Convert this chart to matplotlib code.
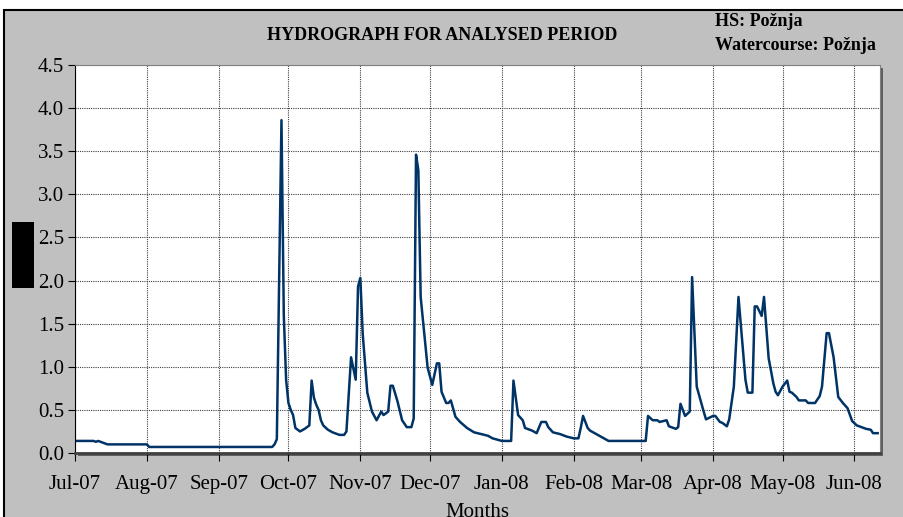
import matplotlib
matplotlib.use("Agg")
import matplotlib.pyplot as plt
from matplotlib.patches import Rectangle
import numpy as np
import pandas as pd

# daily discharge, day number counted from 1 Jul 2007
day = [0, 8, 9, 10, 12, 14, 31, 32, 85, 86, 87, 89, 90, 91, 92, 93, 94, 95, 97, 99,
       100, 101, 102, 103, 104, 105, 106, 107, 109, 111, 114, 116, 117, 119, 121, 122,
       123, 124, 126, 128, 130, 132, 133, 135, 136, 137, 139, 141, 143, 145, 146, 147, 148,
       149, 152, 154, 156, 157, 158, 160, 161, 162, 164, 166, 169, 172, 175, 178, 180,
       184, 188, 189, 191, 193, 194, 197, 199, 201, 203, 204, 206, 209, 212, 215, 217,
       218, 219, 221, 222, 224, 226, 230, 246, 247, 249, 251, 252, 255, 256, 259, 260,
       261, 263, 265, 266, 268, 271, 272, 275, 276, 278, 279, 281, 282, 284, 286, 289,
       290, 292, 293, 294, 296, 297, 299, 301, 302, 303, 305, 307, 308, 309, 311, 312,
       315, 316, 319, 321, 322, 324, 325, 327, 329, 331, 333, 335, 337, 339, 341, 343,
       344, 346]
flow = [0.14, 0.14, 0.13, 0.14, 0.12, 0.10, 0.10, 0.07, 0.07, 0.10, 0.16, 3.86, 1.60, 0.85,
        0.58, 0.50, 0.44, 0.29, 0.25, 0.28, 0.30, 0.32, 0.84, 0.64, 0.56, 0.50, 0.38, 0.32,
        0.27, 0.24, 0.21, 0.21, 0.25, 1.11, 0.85, 1.93, 2.03, 1.39, 0.70, 0.48, 0.38, 0.48,
        0.44, 0.48, 0.78, 0.78, 0.60, 0.38, 0.30, 0.30, 0.40, 3.46, 3.28, 1.81, 0.99, 0.79,
        1.04, 1.04, 0.71, 0.58, 0.58, 0.61, 0.42, 0.36, 0.29, 0.24, 0.22, 0.20, 0.17, 0.14,
        0.14, 0.84, 0.44, 0.38, 0.29, 0.26, 0.23, 0.36, 0.36, 0.30, 0.24, 0.22, 0.19, 0.17,
        0.17, 0.29, 0.43, 0.29, 0.26, 0.23, 0.20, 0.14, 0.14, 0.43, 0.38, 0.38, 0.36, 0.38,
        0.31, 0.28, 0.30, 0.57, 0.43, 0.48, 2.04, 0.77, 0.48, 0.39, 0.43, 0.43, 0.36, 0.35,
        0.31, 0.39, 0.77, 1.81, 0.85, 0.70, 0.70, 1.70, 1.70, 1.59, 1.81, 1.10, 0.81, 0.71,
        0.67, 0.77, 0.84, 0.71, 0.70, 0.65, 0.61, 0.61, 0.58, 0.58, 0.66, 0.77, 1.39, 1.39,
        1.11, 0.65, 0.58, 0.52, 0.37, 0.32, 0.30, 0.28, 0.27, 0.23, 0.23]

month_labels = ["Jul-07", "Aug-07", "Sep-07", "Oct-07", "Nov-07", "Dec-07",
                "Jan-08", "Feb-08", "Mar-08", "Apr-08", "May-08", "Jun-08"]

dates = pd.Timestamp("2007-07-01") + pd.to_timedelta(day, unit="D")

plt.rcParams['font.family'] = ['Liberation Serif', 'DejaVu Serif']

fig = plt.figure(figsize=(9.04, 5.17), dpi=100)
fig.patch.set_facecolor("white")
# grey chart background with border
fig.patches.append(Rectangle((4/904, -0.05), 1.1, (517-10)/517 + 0.05, transform=fig.transFigure,
                             facecolor="#c0c0c0", edgecolor="black", linewidth=1.5, zorder=0))
fig.patches.append(Rectangle((12/904, (517-288)/517), 22/904, 66/517, transform=fig.transFigure,
                             facecolor="black", edgecolor="none", zorder=1))

ax = fig.add_axes([75/904, (517-453)/517, 805/904, 388/517])
# shadow behind plot area
fig.patches.append(Rectangle((78/904, (517-456)/517), 805/904, 388/517, transform=fig.transFigure,
                             facecolor="#606060", edgecolor="none", zorder=1))
ax.set_zorder(2)
ax.set_facecolor("white")

ax.plot(dates, flow, color="#003366", linewidth=1.8)

ax.set_ylim(0, 4.5)
ax.set_yticks(np.arange(0, 4.51, 0.5))
ax.set_yticklabels([f"{v:.1f}" for v in np.arange(0, 4.51, 0.5)], fontsize=15)
ax.set_xlim(pd.Timestamp("2007-07-01"), pd.Timestamp("2008-06-12"))
ticks = pd.date_range("2007-07-01", "2008-06-01", freq="MS")
ax.set_xticks(ticks)
ax.set_xticklabels(month_labels, fontsize=15)
ax.tick_params(axis="x", direction="out", length=6, pad=10, colors="black")
ax.tick_params(axis="y", direction="out", length=5, pad=3)

ax.grid(True, color="#404040", linestyle=(0, (1, 1)), linewidth=0.8)
for s in ["top", "right"]:
    ax.spines[s].set_color("#808080")
    ax.spines[s].set_linewidth(0.8)
ax.spines["left"].set_linewidth(0.8)
ax.spines["bottom"].set_color("#404040")
ax.spines["bottom"].set_linewidth(2)

ax.set_xlabel("Months", fontsize=15, labelpad=6)

fig.text(442/904, 1 - 35/517, "HYDROGRAPH FOR ANALYSED PERIOD", ha="center", va="center",
         fontsize=13, fontweight="bold")
fig.text(715/904, 1 - 22/517, "HS: Požnja", ha="left", va="center", fontsize=13, fontweight="bold")
fig.text(715/904, 1 - 46/517, "Watercourse: Požnja", ha="left", va="center", fontsize=13,
         fontweight="bold")

fig.savefig("out.png", dpi=100)
